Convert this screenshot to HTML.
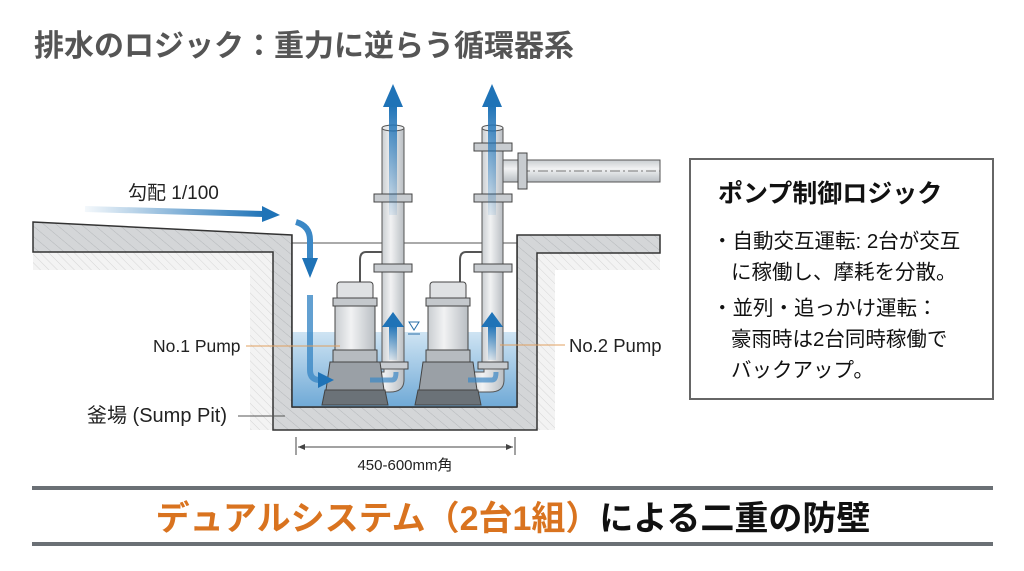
<!DOCTYPE html>
<html><head><meta charset="utf-8"><style>
body{margin:0;background:#fff;}
svg{display:block;font-family:"Liberation Sans","Noto Sans CJK JP",sans-serif;}
</style></head><body>
<svg width="1024" height="571" viewBox="0 0 1024 571" xmlns="http://www.w3.org/2000/svg">
<defs>
<pattern id="hatch" width="8" height="8" patternUnits="userSpaceOnUse" patternTransform="rotate(-50)">
<rect width="8" height="8" fill="#d4d6d8"/><line x1="0" y1="0" x2="0" y2="8" stroke="#b5b8bb" stroke-width="1"/></pattern>
<pattern id="soil" width="6" height="6" patternUnits="userSpaceOnUse" patternTransform="rotate(45)">
<rect width="6" height="6" fill="#f3f3f3"/><line x1="0" y1="0" x2="6" y2="0" stroke="#d6d6d6"/></pattern>
<linearGradient id="water" x1="0" y1="0" x2="0" y2="1"><stop offset="0" stop-color="#cfe4f3"/><stop offset="1" stop-color="#6fa9d6"/></linearGradient>
<linearGradient id="pipe" x1="0" y1="0" x2="1" y2="0"><stop offset="0" stop-color="#c9cdd1"/><stop offset=".4" stop-color="#f1f2f3"/><stop offset="1" stop-color="#b9bec3"/></linearGradient>
<linearGradient id="hpipe" x1="0" y1="0" x2="0" y2="1"><stop offset="0" stop-color="#c9cdd1"/><stop offset=".4" stop-color="#f1f2f3"/><stop offset="1" stop-color="#b9bec3"/></linearGradient>
<linearGradient id="arr" x1="0" y1="1" x2="0" y2="0"><stop offset="0" stop-color="#1f73b7" stop-opacity="0.1"/><stop offset="1" stop-color="#1f73b7"/></linearGradient>
<linearGradient id="arrh" x1="0" y1="0" x2="1" y2="0"><stop offset="0" stop-color="#1f73b7" stop-opacity="0.05"/><stop offset="1" stop-color="#1f73b7"/></linearGradient>
</defs>

<text x="34" y="56" font-size="30" font-weight="bold" fill="#555">排水のロジック：重力に逆らう循環器系</text>

<!-- soil -->
<path d="M33 252 L273 252 L273 430 L250 430 L250 270 L33 270Z" fill="url(#soil)"/>
<path d="M537 253 L660 253 L660 270 L555 270 L555 430 L537 430Z" fill="url(#soil)"/>
<!-- concrete -->
<path d="M33 222 L292 235 L292 407 L517 407 L517 235 L660 235 L660 253 L537 253 L537 430 L273 430 L273 252 L33 252Z" fill="url(#hatch)" stroke="#333" stroke-width="1.5"/>
<rect x="292" y="235" width="225" height="172" fill="#fff"/>
<line x1="292" y1="243" x2="517" y2="243" stroke="#555" stroke-width="1"/>
<rect x="292" y="332" width="225" height="75" fill="url(#water)"/>
<line x1="292" y1="235" x2="292" y2="407" stroke="#333" stroke-width="1.5"/>
<line x1="517" y1="235" x2="517" y2="407" stroke="#333" stroke-width="1.5"/>
<line x1="292" y1="407" x2="517" y2="407" stroke="#333" stroke-width="1.5"/>

<!-- horizontal pipe -->
<rect x="503" y="160" width="157" height="22" fill="url(#hpipe)" stroke="#555"/>
<line x1="520" y1="171" x2="660" y2="171" stroke="#777" stroke-dasharray="10 3 2 3"/>
<rect x="518" y="153" width="9" height="36" fill="#c8ccd0" stroke="#444"/>

<g stroke="#555">
<rect x="382" y="128" width="22" height="240" fill="url(#pipe)"/>
<ellipse cx="393" cy="128" rx="11" ry="3" fill="#e8eaec"/>
<rect x="482" y="128" width="21" height="240" fill="url(#pipe)"/>
<ellipse cx="492.5" cy="128" rx="10.5" ry="3" fill="#e8eaec"/>
<g fill="#c8ccd0" stroke="#444">
<rect x="374" y="194" width="38" height="8"/><rect x="374" y="264" width="38" height="8"/><rect x="378" y="362" width="30" height="7"/>
<rect x="474" y="143" width="38" height="8"/><rect x="474" y="194" width="38" height="8"/><rect x="474" y="264" width="38" height="8"/><rect x="478" y="362" width="30" height="7"/>
</g>
<path d="M384 369 L404 369 L404 380 Q404 392 390 392 L370 392 L370 372 L384 372Z" fill="url(#pipe)"/>
<path d="M484 369 L504 369 L504 380 Q504 392 490 392 L468 392 L468 372 L484 372Z" fill="url(#pipe)"/>
<path d="M382 252 L366 252 Q360 252 360 260 L360 285" fill="none" stroke="#555" stroke-width="2"/>
<path d="M482 252 L466 252 Q460 252 460 260 L460 285" fill="none" stroke="#555" stroke-width="2"/>
</g>

<g stroke="#444" stroke-width="1">
<g>
<rect x="337" y="282" width="36" height="18" rx="3" fill="#dfe1e3"/>
<rect x="333" y="298" width="44" height="8" fill="#c4c8cc"/>
<rect x="335" y="306" width="40" height="44" fill="url(#pipe)"/>
<rect x="333" y="350" width="44" height="12" fill="#b6bbc0"/>
<path d="M330 362 L380 362 L384 390 L326 390Z" fill="#9aa0a6"/>
<path d="M325 390 L385 390 L388 405 L322 405Z" fill="#6b7278"/>
</g>
<g>
<rect x="430" y="282" width="36" height="18" rx="3" fill="#dfe1e3"/>
<rect x="426" y="298" width="44" height="8" fill="#c4c8cc"/>
<rect x="428" y="306" width="40" height="44" fill="url(#pipe)"/>
<rect x="426" y="350" width="44" height="12" fill="#b6bbc0"/>
<path d="M423 362 L473 362 L477 390 L419 390Z" fill="#9aa0a6"/>
<path d="M418 390 L478 390 L481 405 L415 405Z" fill="#6b7278"/>
</g>
</g>
<path d="M409 322 L419 322 L414 330Z" fill="none" stroke="#2a6fa8"/>
<line x1="408" y1="334" x2="420" y2="334" stroke="#2a6fa8"/>

<g fill="#1f73b7">
<rect x="389" y="105" width="8" height="110" fill="url(#arr)"/>
<path d="M383 107 L393 84 L403 107Z"/>
<rect x="488" y="105" width="8" height="110" fill="url(#arr)"/>
<path d="M482 107 L492 84 L502 107Z"/>
<rect x="389" y="325" width="8" height="35" fill="url(#arr)"/>
<path d="M382 327 L393 312 L404 327Z"/>
<rect x="488" y="325" width="8" height="35" fill="url(#arr)"/>
<path d="M481 327 L492 312 L503 327Z"/>
<path d="M85 209 L265 214" stroke="url(#arrh)" stroke-width="6" fill="none"/>
<path d="M262 206 L280 215 L262 222Z"/>
<path d="M296 222 Q310 226 310 240 L310 258" stroke="#3b88c6" stroke-width="6" fill="none"/>
<path d="M302 258 L310 278 L318 258Z"/>
<path d="M310 295 L310 370 Q310 380 320 380" stroke="#3b88c6" stroke-width="6" fill="none" opacity="0.8"/>
<path d="M318 372 L334 380 L318 388Z"/>
<path d="M370 380 L392 380 Q396 380 396 372" stroke="#3b88c6" stroke-width="5" fill="none" opacity="0.7"/>
<path d="M468 380 L492 380 Q496 380 496 372" stroke="#3b88c6" stroke-width="5" fill="none" opacity="0.7"/>
</g>

<text x="128" y="199" font-size="19" fill="#222">勾配 1/100</text>
<text x="153" y="352" font-size="17.5" fill="#222">No.1 Pump</text>
<line x1="246" y1="346" x2="340" y2="346" stroke="#e0a060" stroke-width="1"/>
<text x="569" y="352" font-size="18.5" fill="#222">No.2 Pump</text>
<line x1="500" y1="345" x2="565" y2="345" stroke="#e0a060" stroke-width="1"/>
<text x="87" y="422" font-size="20" fill="#222">釜場 (Sump Pit)</text>
<line x1="238" y1="416" x2="285" y2="416" stroke="#555"/>
<line x1="296" y1="437" x2="296" y2="455" stroke="#444"/>
<line x1="515" y1="437" x2="515" y2="455" stroke="#444"/>
<line x1="298" y1="447" x2="513" y2="447" stroke="#444"/>
<path d="M298 447 L305 444 L305 450Z M513 447 L506 444 L506 450Z" fill="#444"/>
<text x="405" y="470" font-size="15" fill="#222" text-anchor="middle">450-600mm角</text>

<rect x="690" y="159" width="303" height="240" fill="#fff" stroke="#666" stroke-width="2"/>
<text x="718" y="202" font-size="25" font-weight="bold" fill="#111">ポンプ制御ロジック</text>
<g font-size="20.5" fill="#111">
<text x="712" y="248">・自動交互運転: 2台が交互</text>
<text x="731" y="279">に稼働し、摩耗を分散。</text>
<text x="712" y="315">・並列・追っかけ運転：</text>
<text x="731" y="346">豪雨時は2台同時稼働で</text>
<text x="731" y="377">バックアップ。</text>
</g>

<rect x="32" y="486" width="961" height="4" fill="#6b7075"/>
<rect x="32" y="542" width="961" height="4" fill="#6b7075"/>
<text x="513" y="530" font-size="34" font-weight="bold" text-anchor="middle" fill="#111"><tspan fill="#d9731f">デュアルシステム（2台1組）</tspan>による二重の防壁</text>
</svg>
</body></html>
